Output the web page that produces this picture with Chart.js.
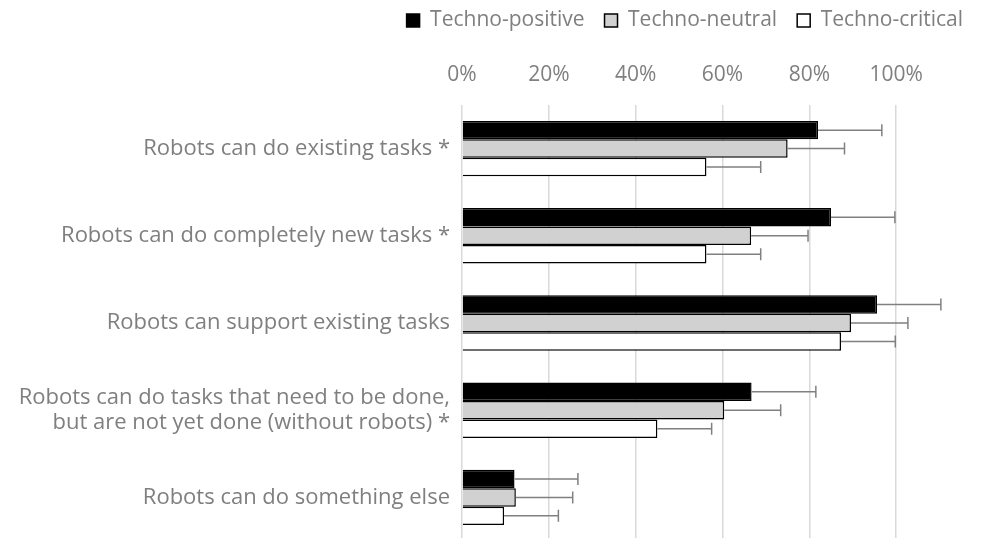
<!DOCTYPE html>
<html>
<head>
<meta charset="utf-8">
<script src="https://cdn.jsdelivr.net/npm/chart.js@4"></script>
<style>
  html, body { margin: 0; padding: 0; background: #fff; overflow: hidden; }
  #wrap { width: 986px; height: 542px; }
</style>
</head>
<body>
<div id="wrap"><canvas id="chart"></canvas></div>
<script>
// Data (percent)
const categories = [
    'Robots can do existing tasks *',
    'Robots can do completely new tasks *',
    'Robots can support existing tasks',
    ['Robots can do tasks that need to be done,', 'but are not yet done (without robots) *'],
    'Robots can do something else'
];
const seriesNames = ['Techno-positive', 'Techno-neutral', 'Techno-critical'];
const positiveValues = [82.0, 85.0, 95.6, 66.7, 12.1];
const neutralValues = [75.0, 66.6, 89.6, 60.4, 12.4];
const criticalValues = [56.3, 56.3, 87.3, 45.0, 9.7];
// error bar length (plus side)
const positiveErrors = [14.7, 14.7, 14.7, 14.8, 14.6];
const neutralErrors = [13.1, 13.1, 13.1, 13.0, 13.1];
const criticalErrors = [12.5, 12.5, 12.5, 12.5, 12.5];
const tickValues = [0, 20, 40, 60, 80, 100];

const grey = '#7f7f7f';
const fontFamily = '"Open Sans", sans-serif';
const topShift = -10; // pulls the legend up

const errorBars = {
    id: 'errorBars',
    afterDatasetsDraw(chart) {
        const ctx = chart.ctx;
        const xScale = chart.scales.x;
        ctx.save();
        ctx.strokeStyle = '#808080';
        ctx.lineWidth = 1.5;
        chart.data.datasets.forEach((ds, i) => {
            const meta = chart.getDatasetMeta(i);
            meta.data.forEach((bar, j) => {
                const x0 = bar.x;
                const x1 = xScale.getPixelForValue(ds.data[j] + ds.errors[j]);
                const y = bar.y;
                ctx.beginPath();
                ctx.moveTo(x0, y);
                ctx.lineTo(x1, y);
                ctx.moveTo(x1, y - 6);
                ctx.lineTo(x1, y + 6);
                ctx.stroke();
            });
        });
        ctx.restore();
    }
};

const ctx = document.getElementById('chart').getContext('2d');
const chart = new Chart(ctx, {
    type: 'bar',
    data: {
        labels: categories,
        datasets: [{
            label: seriesNames[0],
            data: positiveValues,
            errors: positiveErrors,
            backgroundColor: '#000000',
            borderColor: '#000000',
            borderWidth: 1.5
        }, {
            label: seriesNames[1],
            data: neutralValues,
            errors: neutralErrors,
            backgroundColor: '#d0d1d0',
            borderColor: '#000000',
            borderWidth: 1.5
        }, {
            label: seriesNames[2],
            data: criticalValues,
            errors: criticalErrors,
            backgroundColor: '#ffffff',
            borderColor: '#000000',
            borderWidth: 1.5
        }]
    },
    options: {
        indexAxis: 'y',
        responsive: true,
        maintainAspectRatio: false,
        animation: false,
        layout: { padding: { left: 0, right: 3, top: topShift, bottom: 1 } },
        datasets: {
            bar: { categoryPercentage: 0.635, barPercentage: 1.0, borderSkipped: 'start' }
        },
        scales: {
            x: {
                position: 'top',
                min: 0,
                max: 120,
                afterBuildTicks(scale) {
                    scale.ticks = tickValues.map(v => ({ value: v }));
                },
                afterFit(scale) {
                    const lh = scale.chart.legend ? scale.chart.legend.height : 40;
                    scale.height = 105 - topShift - lh;
                },
                ticks: {
                    color: grey,
                    padding: 17,
                    font: { family: fontFamily, size: 21 },
                    callback: v => v + '%'
                },
                grid: { color: '#d9d9d9', lineWidth: 1.5, drawTicks: false },
                border: { display: false }
            },
            y: {
                afterFit(scale) {
                    scale.width = 462;
                    scale.paddingTop = 0;
                    scale.paddingBottom = 0;
                },
                ticks: {
                    color: grey,
                    padding: 12,
                    font: { family: fontFamily, size: 22, lineHeight: 1.15 }
                },
                grid: { display: false, drawTicks: false },
                border: { display: false }
            }
        },
        plugins: {
            legend: {
                position: 'top',
                align: 'end',
                labels: {
                    color: grey,
                    boxWidth: 13,
                    boxHeight: 13,
                    padding: 20,
                    font: { family: fontFamily, size: 21 }
                }
            },
            tooltip: { enabled: false }
        }
    },
    plugins: [errorBars]
});
</script>
</body>
</html>
